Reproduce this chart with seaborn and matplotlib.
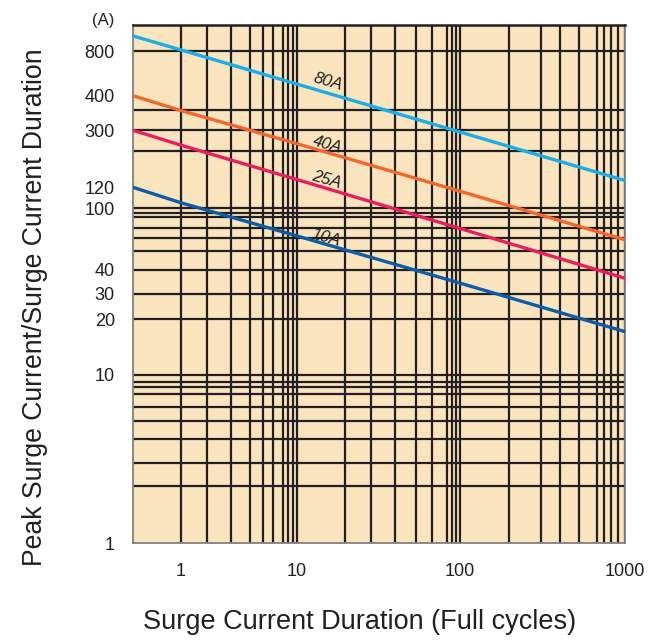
import numpy as np
import pandas as pd
import matplotlib
matplotlib.use("Agg")
import matplotlib.pyplot as plt
import seaborn as sns

# ---------------- data ----------------
durations = [0.4, 1, 10, 100, 1000]          # full cycles
series_names = ["80A", "40A", "25A", "10A"]
current_80A = [1020, 820, 480, 290, 132]
current_40A = [400, 350, 232, 116, 58]
current_25A = [300, 226, 134, 69, 36]
current_10A = [120, 105, 61.5, 34, 17.1]

x_tick_values = [1, 10, 100, 1000]
x_tick_labels = ["1", "10", "100", "1000"]
y_tick_values = [1, 10, 20, 30, 40, 100, 120, 300, 400, 800]
y_tick_labels = ["1", "10", "20", "30", "40", "100", "120", "300", "400", "800"]
x_grid_values = [2, 3, 4, 5, 6, 7, 8, 9, 20, 30, 40, 50, 60, 70, 80, 90,
                 200, 300, 400, 500, 600, 700, 800, 900]
y_grid_values = [2, 3, 4, 5, 6, 7, 8, 9, 50, 60, 70, 80, 90, 200, 350]

colors = {"80A": "#1AADE8", "40A": "#F4662B", "25A": "#EB1E5D", "10A": "#0D5CA7"}

# printed log paper of the original sheet (value -> relative position)
paper_x = ([0.4, 1, 2, 3, 4, 5, 6, 7, 8, 9, 10, 20, 30, 40, 50, 60, 70, 80, 90,
            100, 200, 300, 400, 500, 600, 700, 800, 900, 1000],
           [133, 180.7, 206.7, 231, 250, 263.3, 272.7, 282.7, 287.7, 292.7, 297,
            345, 370.7, 395, 415.7, 431.7, 447.3, 451.7, 456, 460,
            508.7, 540.7, 560, 579.3, 596.7, 604, 611, 617.7, 625.3])
paper_y = ([1, 2, 3, 4, 5, 6, 7, 8, 9, 10, 20, 30, 40, 50, 60, 70, 80, 90,
            100, 120, 200, 300, 350, 400, 800],
           [-543.3, -485.7, -462.7, -438.7, -420.7, -406.7, -394.3, -387.3, -381.7,
            -374.8, -319.3, -293.7, -269.7, -250.7, -237.7, -227.7, -217.3, -212.7,
            -208.5, -187.5, -151.7, -130.5, -110.7, -96, -51.7])


def paper_scale(vals, pos):
    lv = np.log10(np.asarray(vals, float))
    p = np.asarray(pos, float)
    s0 = (p[1] - p[0]) / (lv[1] - lv[0])
    s1 = (p[-1] - p[-2]) / (lv[-1] - lv[-2])

    def fwd(v):
        v = np.asarray(v, float)
        with np.errstate(divide="ignore", invalid="ignore"):
            l = np.log10(np.where(v > 0, v, np.nan))
        out = np.interp(l, lv, p)
        out = np.where(l < lv[0], p[0] + (l - lv[0]) * s0, out)
        out = np.where(l > lv[-1], p[-1] + (l - lv[-1]) * s1, out)
        return out

    def inv(q):
        q = np.asarray(q, float)
        l = np.interp(q, p, lv)
        l = np.where(q < p[0], lv[0] + (q - p[0]) / s0, l)
        l = np.where(q > p[-1], lv[-1] + (q - p[-1]) / s1, l)
        return 10 ** l

    return fwd, inv


rows = []
for name, vals in zip(series_names, [current_80A, current_40A, current_25A, current_10A]):
    for d, c in zip(durations, vals):
        rows.append({"duration": d, "current": c, "series": name})
df = pd.DataFrame(rows)

plt.rcParams["font.family"] = ["Liberation Sans", "DejaVu Sans"]

fig = plt.figure(figsize=(6.6, 6.41), dpi=100)
ax = fig.add_axes([133 / 660, 1 - 543.3 / 641, (625.3 - 133) / 660, (543.3 - 25.5) / 641])
ax.set_facecolor("#F9E4BE")

sns.lineplot(data=df, x="duration", y="current", hue="series", palette=colors,
             estimator=None, sort=True, linewidth=2.4, legend=False, ax=ax, zorder=3)

ax.set_xscale("function", functions=paper_scale(*paper_x))
ax.set_yscale("function", functions=paper_scale(*paper_y))
ax.set_xlim(0.4, 1000)
ax.set_ylim(1, 1200)

ax.set_xticks(x_tick_values)
ax.set_xticklabels(x_tick_labels)
ax.set_xticks(x_grid_values, minor=True)
ax.set_yticks(y_tick_values)
ax.set_yticklabels(y_tick_labels)
ax.set_yticks(y_grid_values, minor=True)
ax.tick_params(which="both", length=0)
ax.tick_params(axis="y", pad=13, labelsize=13, colors="#231F20")
ax.tick_params(axis="x", pad=14, labelsize=13, colors="#231F20")
ax.yaxis.set_minor_formatter(matplotlib.ticker.NullFormatter())
ax.xaxis.set_minor_formatter(matplotlib.ticker.NullFormatter())

grid_kw = dict(color="#231F20", linewidth=1.6)
ax.grid(True, which="both", **grid_kw)
for val, tick in zip(y_tick_values, ax.yaxis.get_major_ticks()):
    if val in (1, 120, 400):
        tick.gridline.set_visible(False)

for side in ["left", "bottom", "right"]:
    ax.spines[side].set_color("#808080")
    ax.spines[side].set_linewidth(1.3)
ax.spines["top"].set_color("#231F20")
ax.spines["top"].set_linewidth(1.8)

label_pos = {"80A": (15.6, 500), "40A": (15.4, 227), "25A": (15.4, 134), "10A": (15.2, 59.7)}
for name in series_names:
    lx, ly = label_pos[name]
    ax.text(lx, ly, name, rotation=-16, ha="center", va="center", fontsize=12,
            style="italic", color="#231F20", zorder=4)

ax.text(-0.061, 1.0087, "(A)", transform=ax.transAxes, ha="center", va="center",
        fontsize=12, color="#231F20")

ax.set_xlabel("Surge Current Duration (Full cycles)", fontsize=19.5, color="#231F20")
ax.set_ylabel("Peak Surge Current/Surge Current Duration", fontsize=19.2, color="#231F20")
ax.xaxis.set_label_coords(0.461, -0.126)
ax.yaxis.set_label_coords(-0.226, 0.456)
ax.xaxis.label.set_va("top")
ax.yaxis.label.set_va("top")

fig.savefig("out.png", dpi=100)
